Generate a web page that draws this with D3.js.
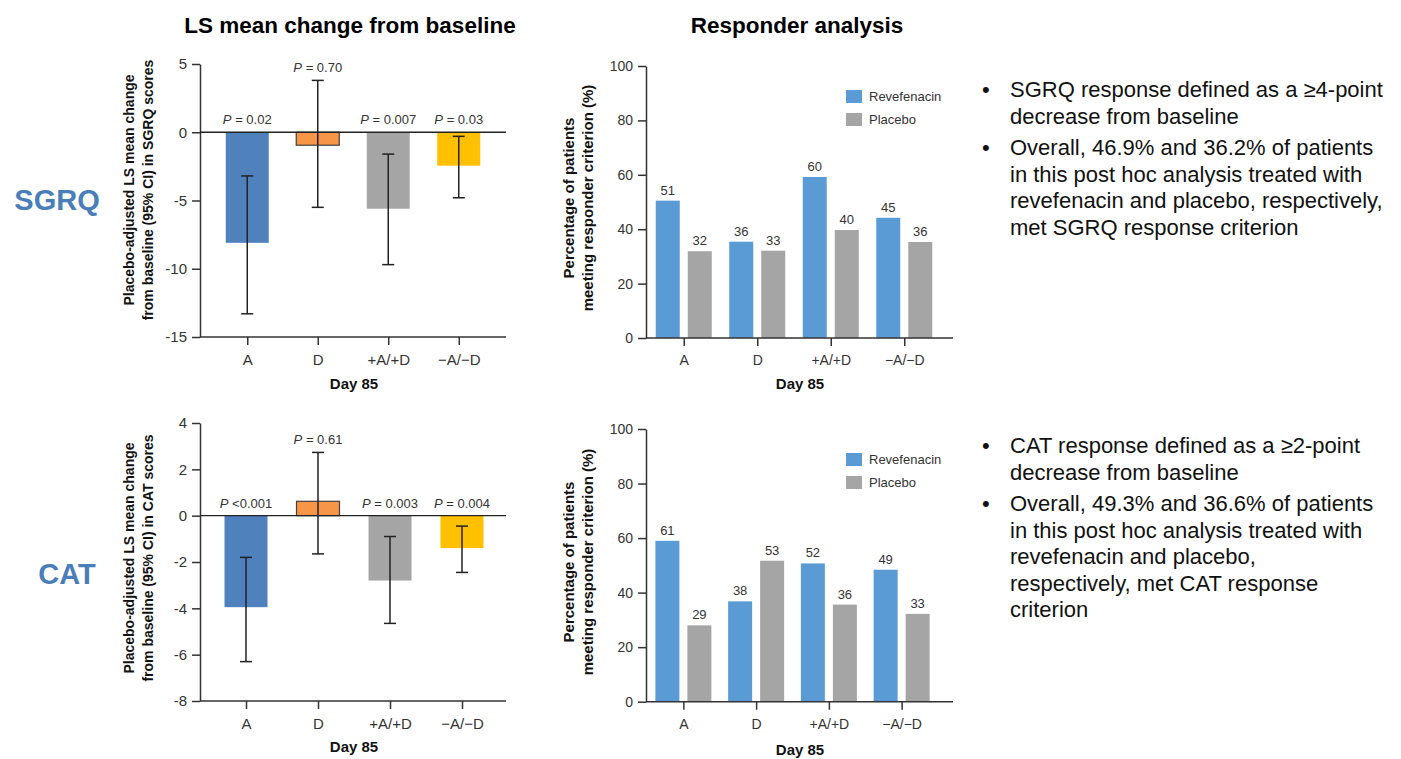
<!DOCTYPE html>
<html>
<head>
<meta charset="utf-8">
<script src="https://cdn.jsdelivr.net/npm/d3@7"></script>
<style>
  body { margin: 0; background: #fff; }
  svg { font-family: Arial, "Liberation Sans", sans-serif; }
  .tick text { fill: #333; }
</style>
</head>
<body>
<div id="chart"></div>
<script>
// categories on every x axis
var categories = ["A", "D", "+A/+D", "\u2212A/\u2212D"];
var barColors = ["#4f81bd", "#f79646", "#a5a5a5", "#ffc000"];

// LS mean change (placebo-adjusted), with 95% CI
var sgrqMean  = [-8.1, -0.95, -5.6, -2.45];
var sgrqLower = [-13.3, -5.5, -9.7, -4.8];
var sgrqUpper = [-3.2, 3.8, -1.6, -0.3];
var sgrqP = ["= 0.02", "= 0.70", "= 0.007", "= 0.03"];
var sgrqTicks = [5, 0, -5, -10, -15];

var catMean  = [-3.95, 0.62, -2.8, -1.4];
var catLower = [-6.3, -1.65, -4.65, -2.45];
var catUpper = [-1.8, 2.73, -0.9, -0.45];
var catP = ["<0.001", "= 0.61", "= 0.003", "= 0.004"];
var catTicks = [4, 2, 0, -2, -4, -6, -8];

// responder analysis (bar heights as drawn, and printed labels)
var groups = ["Revefenacin", "Placebo"];
var groupColors = ["#5b9bd5", "#a5a5a5"];
var sgrqRev = [50.5, 35.4, 59.2, 44.2];
var sgrqRevLabels = [51, 36, 60, 45];
var sgrqPla = [31.9, 32.1, 39.7, 35.3];
var sgrqPlaLabels = [32, 33, 40, 36];
var catRev = [59, 36.8, 50.7, 48.4];
var catRevLabels = [61, 38, 52, 49];
var catPla = [28, 51.7, 35.6, 32.2];
var catPlaLabels = [29, 53, 36, 33];
var respTicks = [0, 20, 40, 60, 80, 100];

var sgrqBullets = [
  ["SGRQ response defined as a \u22654-point", "decrease from baseline"],
  ["Overall, 46.9% and 36.2% of patients", "in this post hoc analysis treated with",
   "revefenacin and placebo, respectively,", "met SGRQ response criterion"]
];
var catBullets = [
  ["CAT response defined as a \u22652-point", "decrease from baseline"],
  ["Overall, 49.3% and 36.6% of patients", "in this post hoc analysis treated with",
   "revefenacin and placebo,", "respectively, met CAT response", "criterion"]
];

var svg = d3.select("#chart").append("svg")
  .attr("width", 1401)
  .attr("height", 759);

// headings
svg.append("text").attr("x", 350).attr("y", 33)
  .attr("text-anchor", "middle").attr("font-weight", "bold").attr("font-size", "22.5px")
  .text("LS mean change from baseline");
svg.append("text").attr("x", 797).attr("y", 33)
  .attr("text-anchor", "middle").attr("font-weight", "bold").attr("font-size", "22.5px")
  .text("Responder analysis");

svg.append("text").attr("x", 57).attr("y", 210)
  .attr("text-anchor", "middle").attr("font-weight", "bold").attr("font-size", "29px")
  .attr("fill", "#4a7ebb").text("SGRQ");
svg.append("text").attr("x", 67).attr("y", 584)
  .attr("text-anchor", "middle").attr("font-weight", "bold").attr("font-size", "29px")
  .attr("fill", "#4a7ebb").text("CAT");

function yTitle(x, cy, lines, size) {
  lines.forEach(function(line, i) {
    svg.append("text")
      .attr("transform", `translate(${x + i * 19}, ${cy}) rotate(-90)`)
      .attr("text-anchor", "middle")
      .attr("dy", "0.35em")
      .attr("font-weight", "bold")
      .attr("font-size", size)
      .attr("fill", "#111")
      .text(line);
  });
}

function drawAxes(p, y, x) {
  var leftAxis = d3.axisLeft(y).tickValues(p.ticks).tickSize(8).tickSizeOuter(0).tickPadding(5)
    .tickFormat(function(d) { return String(d); });
  var gy = svg.append("g").attr("transform", `translate(${p.x0}, 0)`).call(leftAxis);
  gy.selectAll("text").attr("font-size", p.tickFont);
  gy.selectAll("line, path").attr("stroke", "#333").attr("stroke-width", 1.5);

  var bottomAxis = d3.axisBottom(x).tickSize(8).tickSizeOuter(0).tickPadding(9);
  var gx = svg.append("g").attr("transform", `translate(0, ${y.range()[0]})`).call(bottomAxis);
  gx.select(".domain").remove();
  gx.selectAll("text").attr("font-size", p.tickFont);
  gx.selectAll("line").attr("stroke", "#333").attr("stroke-width", 1.5);
  svg.append("line")
    .attr("x1", p.x0).attr("x2", p.x1)
    .attr("y1", y.range()[0]).attr("y2", y.range()[0])
    .attr("stroke", "#333").attr("stroke-width", 1.5);

  svg.append("text").attr("x", p.titleX).attr("y", p.titleY)
    .attr("text-anchor", "middle").attr("font-weight", "bold").attr("font-size", "15px")
    .attr("fill", "#111").text("Day 85");
}

function drawMeanChart(p) {
  var y = d3.scaleLinear().domain(p.domain).range(p.yRange);
  var x = d3.scalePoint().domain(categories).range(p.xRange).padding(0.5);
  var bw = 43;

  svg.selectAll(null).data(p.mean).enter().append("rect")
    .attr("x", (d, i) => x(categories[i]) - bw / 2)
    .attr("y", d => y(Math.max(0, d)))
    .attr("width", bw)
    .attr("height", d => Math.abs(y(d) - y(0)))
    .attr("fill", (d, i) => barColors[i])
    .attr("stroke", (d, i) => i == 1 ? "#404040" : "none")
    .attr("stroke-width", 1.2);

  drawAxes(p, y, x);

  // zero line
  svg.append("line")
    .attr("x1", p.x0).attr("x2", p.x1)
    .attr("y1", y(0)).attr("y2", y(0))
    .attr("stroke", "#222").attr("stroke-width", 1.3);

  // error bars
  var eb = svg.selectAll(null).data(p.mean).enter().append("g")
    .attr("stroke", "#222").attr("stroke-width", 1.5);
  eb.append("line")
    .attr("x1", (d, i) => x(categories[i])).attr("x2", (d, i) => x(categories[i]))
    .attr("y1", (d, i) => y(p.upper[i])).attr("y2", (d, i) => y(p.lower[i]));
  eb.append("line")
    .attr("x1", (d, i) => x(categories[i]) - 6).attr("x2", (d, i) => x(categories[i]) + 6)
    .attr("y1", (d, i) => y(p.upper[i])).attr("y2", (d, i) => y(p.upper[i]));
  eb.append("line")
    .attr("x1", (d, i) => x(categories[i]) - 6).attr("x2", (d, i) => x(categories[i]) + 6)
    .attr("y1", (d, i) => y(p.lower[i])).attr("y2", (d, i) => y(p.lower[i]));

  // p values
  var pt = svg.selectAll(null).data(p.pvals).enter().append("text")
    .attr("x", (d, i) => x(categories[i]))
    .attr("y", (d, i) => Math.min(y(0), y(p.mean[i]), y(p.upper[i])) - 8)
    .attr("text-anchor", "middle")
    .attr("font-size", "13px")
    .attr("fill", "#333");
  pt.append("tspan").attr("font-style", "italic").text("P");
  pt.append("tspan").text(d => " " + d);

  yTitle(p.titleLineX, p.titleCY, ["Placebo-adjusted LS mean change",
    "from baseline (95% CI) in " + p.name + " scores"], "14px");
}

function drawResponderChart(p) {
  var y = d3.scaleLinear().domain([0, 100]).range(p.yRange);
  var x = d3.scalePoint().domain(categories).range(p.xRange).padding(0.5);
  var x1 = d3.scaleBand().domain(groups).range([-28, 28]).paddingInner(0.25);

  var series = [
    { key: groups[0], values: p.rev, labels: p.revLabels, color: groupColors[0] },
    { key: groups[1], values: p.pla, labels: p.plaLabels, color: groupColors[1] }
  ];

  series.forEach(function(s) {
    svg.selectAll(null).data(s.values).enter().append("rect")
      .attr("x", (d, i) => x(categories[i]) + x1(s.key))
      .attr("y", d => y(d))
      .attr("width", x1.bandwidth())
      .attr("height", d => y(0) - y(d))
      .attr("fill", s.color);
    svg.selectAll(null).data(s.values).enter().append("text")
      .attr("x", (d, i) => x(categories[i]) + x1(s.key) + x1.bandwidth() / 2)
      .attr("y", d => y(d) - 6)
      .attr("text-anchor", "middle")
      .attr("font-size", "13px")
      .attr("fill", "#333")
      .text((d, i) => s.labels[i]);
  });

  drawAxes(p, y, x);

  // legend
  series.forEach(function(s, i) {
    svg.append("rect")
      .attr("x", p.legendX).attr("y", p.legendY + i * 23)
      .attr("width", 16).attr("height", 13)
      .attr("fill", s.color);
    svg.append("text")
      .attr("x", p.legendX + 23).attr("y", p.legendY + i * 23 + 6.5)
      .attr("dy", "0.35em")
      .attr("font-size", "13px").attr("fill", "#333")
      .text(s.key);
  });

  yTitle(p.titleLineX, p.titleCY, ["Percentage of patients", "meeting responder criterion (%)"], "15px");
}

drawMeanChart({
  name: "SGRQ", mean: sgrqMean, lower: sgrqLower, upper: sgrqUpper, pvals: sgrqP,
  ticks: sgrqTicks, domain: [-15, 5], yRange: [337, 64], xRange: [212, 494],
  x0: 200, x1: 506, tickFont: "15px", titleX: 354, titleY: 389,
  titleLineX: 129, titleCY: 190
});
drawMeanChart({
  name: "CAT", mean: catMean, lower: catLower, upper: catUpper, pvals: catP,
  ticks: catTicks, domain: [-8, 4], yRange: [701, 423], xRange: [210, 498],
  x0: 200, x1: 506, tickFont: "15px", titleX: 354, titleY: 752,
  titleLineX: 129, titleCY: 558
});
drawResponderChart({
  rev: sgrqRev, revLabels: sgrqRevLabels, pla: sgrqPla, plaLabels: sgrqPlaLabels,
  ticks: respTicks, yRange: [338, 66], xRange: [647, 941],
  x0: 646, x1: 953, tickFont: "14px", titleX: 800, titleY: 389,
  legendX: 846, legendY: 90, titleLineX: 569, titleCY: 198
});
drawResponderChart({
  rev: catRev, revLabels: catRevLabels, pla: catPla, plaLabels: catPlaLabels,
  ticks: respTicks, yRange: [701.7, 429], xRange: [647, 938],
  x0: 646, x1: 953, tickFont: "14px", titleX: 800, titleY: 755,
  legendX: 846, legendY: 453, titleLineX: 569, titleCY: 562
});

// bullet notes
function bullets(items, top) {
  var yPos = top;
  items.forEach(function(lines) {
    svg.append("text").attr("x", 982).attr("y", yPos)
      .attr("font-size", "22px").attr("fill", "#111").text("\u2022");
    lines.forEach(function(line) {
      svg.append("text").attr("x", 1010).attr("y", yPos)
        .attr("font-size", "22px").attr("fill", "#111").text(line);
      yPos += 26.5;
    });
    yPos += 5;
  });
}
bullets(sgrqBullets, 97);
bullets(catBullets, 453);
</script>
</body>
</html>
